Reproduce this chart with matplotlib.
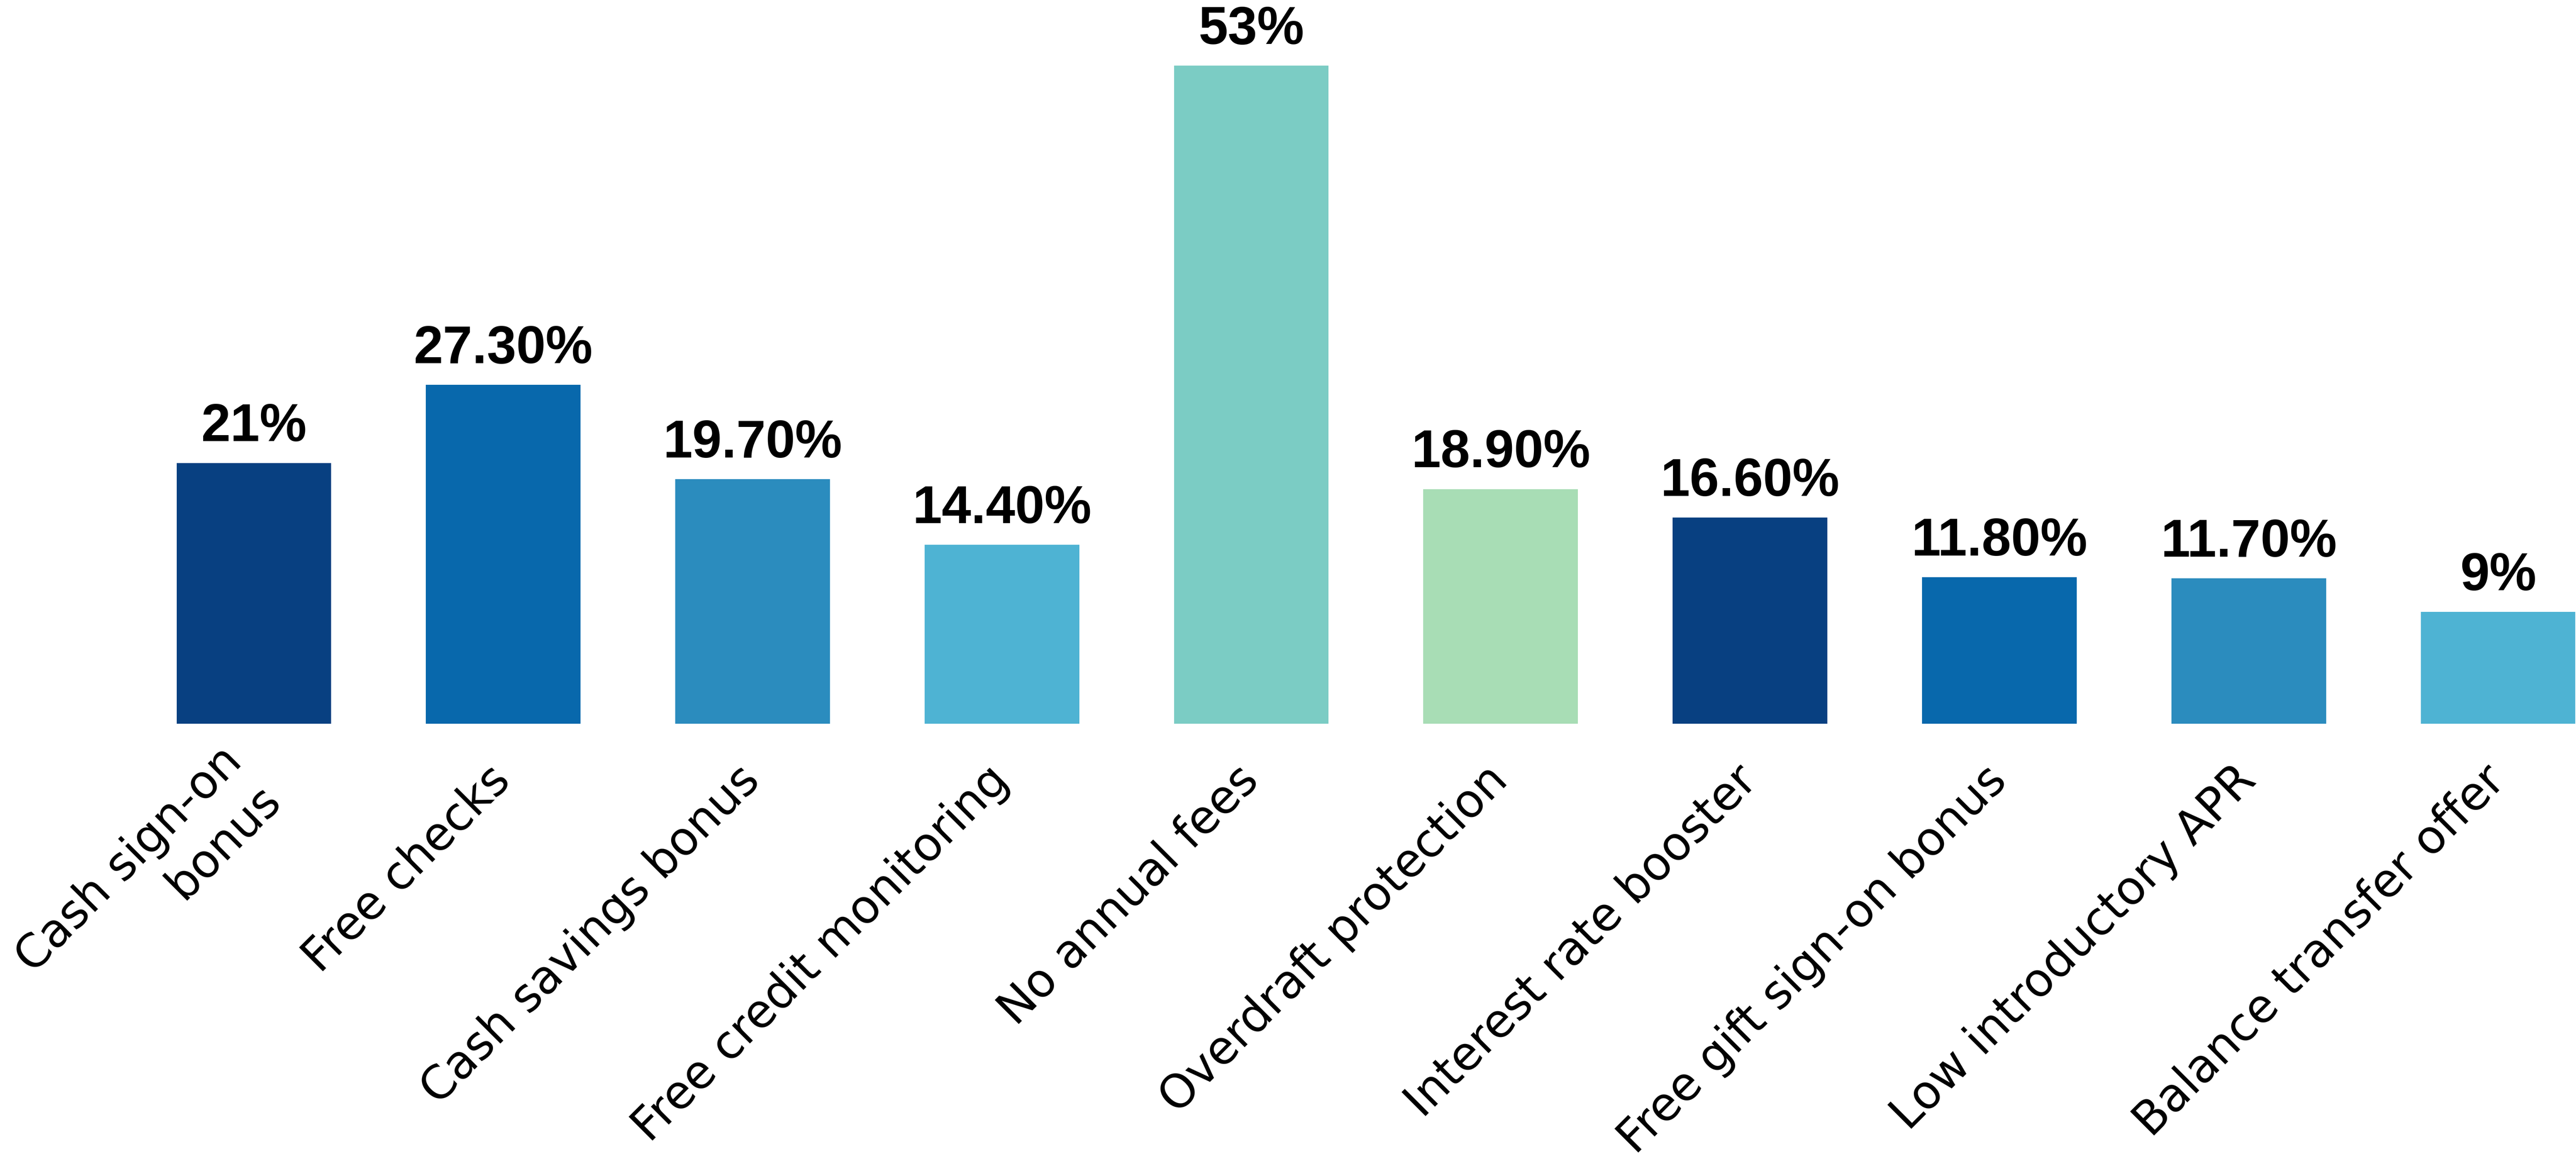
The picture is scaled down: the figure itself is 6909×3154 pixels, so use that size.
import matplotlib
matplotlib.use("Agg")
import matplotlib.pyplot as plt

# data
categories = [
    "Cash sign-on\nbonus",
    "Free checks",
    "Cash savings bonus",
    "Free credit monitoring",
    "No annual fees",
    "Overdraft protection",
    "Interest rate booster",
    "Free gift sign-on bonus",
    "Low introductory APR",
    "Balance transfer offer",
]
values = [21, 27.3, 19.7, 14.4, 53, 18.9, 16.6, 11.8, 11.7, 9]
value_labels = ["21%", "27.30%", "19.70%", "14.40%", "53%",
                "18.90%", "16.60%", "11.80%", "11.70%", "9%"]

# palette: GnBu, darkest first, cycled
palette = ["#084081", "#0868ac", "#2b8cbe", "#4eb3d3", "#7bccc4", "#a8ddb5"]
bar_colors = [palette[i % len(palette)] for i in range(len(values))]

fig = plt.figure(figsize=(69.1, 31.54), dpi=100)
ax = fig.add_axes([0, 0.3846, 1, 0.5596])

x = list(range(len(values)))
bars = ax.bar(x, values, width=0.62, color=bar_colors, linewidth=0)

for rect, lab in zip(bars, value_labels):
    ax.annotate(lab, (rect.get_x() + rect.get_width() / 2, rect.get_height()),
                xytext=(0, 42), textcoords="offset points",
                ha="center", va="baseline", fontsize=102, fontweight="bold",
                family=["Liberation Sans", "DejaVu Sans"], color="black")

ax.set_xlim(-1.018, 9.314)
ax.set_ylim(0, 53)
ax.set_xticks(x)
ax.set_xticklabels(categories, fontsize=89, family=["DejaVu Sans"],
                   linespacing=1.25)
plt.setp(ax.get_xticklabels(), rotation=45, ha="right", va="center",
         rotation_mode="anchor")
ax.tick_params(axis="x", length=0, pad=96)
ax.set_yticks([])
for side in ["top", "right", "left", "bottom"]:
    ax.spines[side].set_visible(False)

fig.savefig("out.png", dpi=100, facecolor="white")
